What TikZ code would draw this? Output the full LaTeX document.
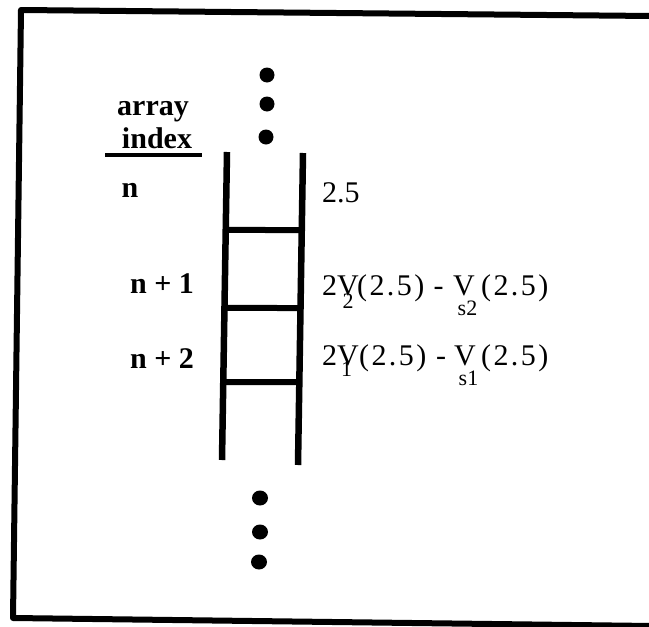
\documentclass[tikz,border=0pt]{standalone}
\usepackage{fontspec}
\setmainfont{Liberation Serif}
\usetikzlibrary{calc}
\newcommand{\pc}[2]{\rlap{\kern#1\relax #2}}
\newcommand{\sbx}[2]{\raisebox{#1}{\fontsize{22}{22}\selectfont #2}}
\newcommand{\pv}{(\kern2.4pt2\kern2.4pt.\kern2.4pt5\kern2.4pt)}
\begin{document}
\begin{tikzpicture}[x=1pt,y=-1pt,
  frameline/.style={line width=6pt,line cap=round,line join=round},
  rail/.style={line width=6.5pt},
  rung/.style={line width=6pt},
  lbl/.style={inner sep=0pt,anchor=base,font=\fontsize{30}{30}\selectfont\bfseries},
  val/.style={inner sep=0pt,anchor=base west,font=\fontsize{30}{30}\selectfont},
  dotc/.style={fill=black,draw=none}]
\useasboundingbox (0,0) rectangle (649,627);
% frame
\coordinate (tr) at (652,16);
\coordinate (tl) at (21,10);
\coordinate (bl) at (13,618);
\coordinate (br) at (652,626);
\draw[frameline] (tr) -- (tl) -- (bl) -- (br);
% ladder rails
\coordinate (lt) at (227,152);
\coordinate (lb) at (222,460);
\coordinate (rt) at (303,153);
\coordinate (rb) at (298,465);
\draw[rail] (lt) -- (lb);
\draw[rail] (rt) -- (rb);
% rungs
\draw[rung] ($(lt)!0.253!(lb)$) -- ($(rt)!0.247!(rb)$);
\draw[rung] ($(lt)!0.506!(lb)$) -- ($(rt)!0.497!(rb)$);
\draw[rung] ($(lt)!0.747!(lb)$) -- ($(rt)!0.734!(rb)$);
% dots
\fill[dotc] (267,75) circle[x radius=7.5pt,y radius=7.5pt];
\fill[dotc] (267,104) circle[x radius=7.5pt,y radius=7.5pt];
\fill[dotc] (266,137) circle[x radius=7.5pt,y radius=7.5pt];
\fill[dotc] (260,498) circle[x radius=8pt,y radius=7.5pt];
\fill[dotc] (260,532) circle[x radius=8pt,y radius=7.5pt];
\fill[dotc] (259,562) circle[x radius=8pt,y radius=7.5pt];
% left labels
\node[lbl] (arr) at (153,115) {array};
\node[lbl] (idx) at (157,148) {index};
\coordinate (ul1) at (105,155);
\coordinate (ul2) at (202,155);
\draw[line width=4pt] (ul1) -- (ul2);
\node[lbl] (n0) at (130,197) {n};
\node[lbl] (n1) at (162,293) {n + 1};
\node[lbl] (n2) at (162,368) {n + 2};
% right values
\node[val] (v0) at (322,202) {2.5};
\node[val] (v1) at (322,295) {\pc{0pt}{2V}\pc{20.5pt}{\sbx{-13pt}{2}}\pc{35pt}{\pv}\pc{111.5pt}{-}\pc{131pt}{V}\pc{135.5pt}{\sbx{-20pt}{s2}}\pc{159pt}{\pv}\kern225pt};
\node[val] (v2) at (322,365) {\pc{0pt}{2V}\pc{19pt}{\sbx{-11pt}{1}}\pc{37pt}{\pv}\pc{114pt}{-}\pc{132pt}{V}\pc{136.5pt}{\sbx{-20pt}{s1}}\pc{159pt}{\pv}\kern225pt};
\end{tikzpicture}
\end{document}
